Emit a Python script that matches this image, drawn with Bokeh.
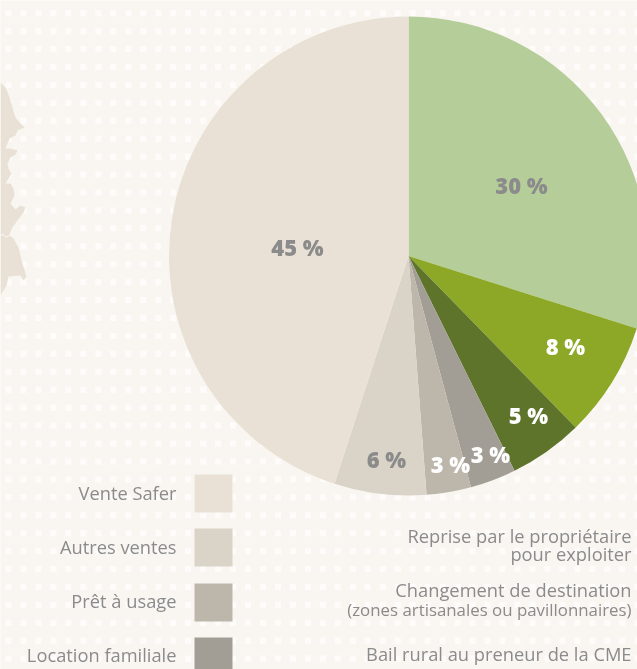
from math import pi
from bokeh.plotting import figure
from bokeh.models import ColumnDataSource
from bokeh.core.properties import value
from bokeh.embed import file_html
from bokeh.resources import INLINE

W, H = 637, 669

# ---- data -----------------------------------------------------------------
categories = ["Reprise par le propriétaire pour exploiter",
              "Changement de destination (zones artisanales ou pavillonnaires)",
              "Bail rural au preneur de la CME",
              "Location familiale", "Prêt à usage", "Autres ventes", "Vente Safer"]
shares = [29.9, 7.8, 5.0, 3.1, 3.0, 6.2, 45.0]
share_labels = ["30 %", "8 %", "5 %", "3 %", "3 %", "6 %", "45 %"]

legend_left = ["Vente Safer", "Autres ventes", "Prêt à usage", "Location familiale"]
legend_right = [("Reprise par le propriétaire", 0), ("pour exploiter", 0),
                ("Changement de destination", 0),
                ("(zones artisanales ou pavillonnaires)", 1),
                ("Bail rural au preneur de la CME", 0)]

# ---- styles and layout -----------------------------------------------------
BG, DOT, MAP = "#f9f6f2", "#fdfcfa", "#e9e1d6"
GREY = "#8b8b8b"
slice_colors = ["#b5cd98", "#8da826", "#5e742b", "#a29e95", "#bdb6ab", "#dad3c7", "#e9e1d6"]
label_colors = [GREY, "white", "white", "white", "white", GREY, GREY]
label_px = [(521, 184), (565, 345), (528, 414), (490, 453), (450, 463), (386, 458), (297, 246)]
legend_colors = ["#e9e1d6", "#dad3c7", "#bdb6ab", "#a29e95"]
legend_left_y = [492, 546, 600, 654]
swatch_y = [493, 547, 602, 656]
legend_right_y = [535, 553, 589, 609, 653]
CX, CY, R = 408, 255.5, 239.5

coast_x = [0, 5, 9, 12, 15, 20, 24, 17, 15, 9, 5, 10, 17, 15, 10, 7, 8, 11, 8, 5, 10, 13, 14, 10,
           15, 20, 25, 23, 17, 12, 9, 13, 18, 22, 26, 23, 20, 8, 6, 0]
coast_y = [82, 87, 97, 107, 117, 123, 127, 130, 135, 138, 148, 148, 150, 154, 157, 163, 168, 173,
           178, 183, 183, 188, 195, 203, 209, 205, 207, 212, 220, 227, 234, 238, 247, 263, 276, 280,
           275, 276, 285, 295]
seam_x = [0, 3, 6, 8, 14]
seam_y = [235, 234, 237, 235, 236]

def Y(py):
    return H - py

p = figure(width=W, height=H, x_range=(0, W), y_range=(0, H), output_backend="svg",
           toolbar_location=None, min_border=0, outline_line_color=None,
           background_fill_color=BG, border_fill_color=BG)
p.axis.visible = False
p.grid.visible = False
p.styles = {"position": "fixed", "left": "0px", "top": "0px"}

# dotted background
dots_x = [8 + 14.97 * i for i in range(43)]
dots_y = [12.7 + 17.93 * j for j in range(38)]
p.rect([x for x in dots_x for _ in dots_y], [Y(y) for _ in dots_x for y in dots_y],
       width=6, height=6, color=DOT, line_color=None)

# coastline
p.patch(coast_x, [Y(y) for y in coast_y], color=MAP, line_color=None)
p.line(seam_x, [Y(y) for y in seam_y], line_color="#fbfaf7", line_width=1)

# pie, clockwise from 12 o'clock
start, starts, ends = 0.0, [], []
total = sum(shares)
for s in shares:
    end = start + s / total
    starts.append(pi / 2 - 2 * pi * start)
    ends.append(pi / 2 - 2 * pi * end)
    start = end
src = ColumnDataSource(dict(x=[CX] * len(shares), y=[Y(CY)] * len(shares), s=starts, e=ends,
                            c=slice_colors, name=categories))
p.wedge("x", "y", radius=R, start_angle="s", end_angle="e", direction="clock",
        fill_color="c", line_color=None, source=src)

# value labels
lab = ColumnDataSource(dict(x=[q[0] for q in label_px], y=[Y(q[1]) for q in label_px],
                            t=share_labels, c=label_colors))
p.text("x", "y", text="t", text_color="c", source=lab, text_font=value("Open Sans ExtraBold"),
       text_font_style="bold", text_font_size="22px", text_align="center", text_baseline="middle")

# left legend
p.rect([213] * 4, [Y(y) for y in swatch_y], width=38, height=38, color=legend_colors, line_color=None)
p.text([176] * 4, [Y(y) for y in legend_left_y], text=legend_left, text_color=GREY,
       text_font=value("Open Sans"), text_font_size="18.3px", text_align="right", text_baseline="middle")

# right legend
for (t, small), y in zip(legend_right, legend_right_y):
    p.text([631], [Y(y)], text=[t], text_color=GREY, text_font=value("Open Sans"),
           text_font_size="16.85px" if small else "18.3px", text_align="right", text_baseline="middle")

open("out.html", "w").write(file_html(p, INLINE))
